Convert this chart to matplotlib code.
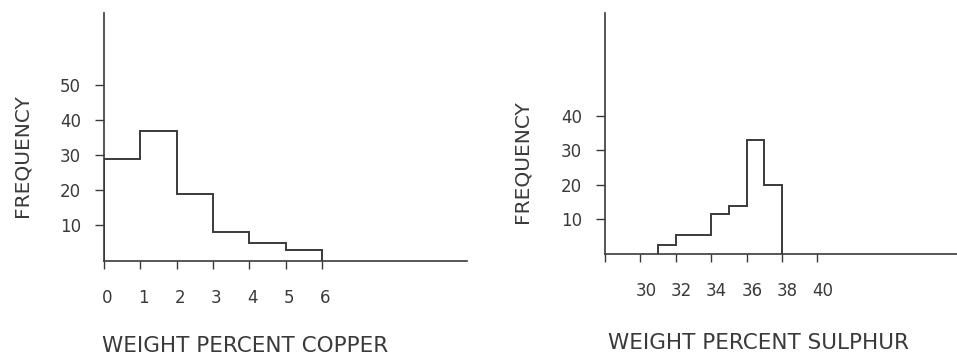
import matplotlib
matplotlib.use('Agg')
import matplotlib.pyplot as plt
from matplotlib.transforms import ScaledTranslation

# copper histogram (1 wt% bins)
cu_edges = [0, 1, 2, 3, 4, 5, 6]
cu_freq = [29, 37, 19, 8, 5, 3]
cu_ticks = [0, 1, 2, 3, 4, 5, 6]
cu_yticks = [10, 20, 30, 40, 50]

# sulphur histogram (uneven bins)
s_edges = [31, 32, 34, 35, 36, 37, 38]
s_freq = [2.5, 5.5, 11.5, 14, 33, 20]
s_ticks = [28, 30, 32, 34, 36, 38, 40]
s_ticklabels = ['', '30', '32', '34', '36', '38', '40']
s_yticks = [10, 20, 30, 40]

ink = '#3a3a3a'
plt.rcParams['font.family'] = ['DejaVu Sans']

fig = plt.figure(figsize=(9.57, 3.56), dpi=100)
fig.patch.set_facecolor('white')


def style(ax, shift):
    for side in ('top', 'right'):
        ax.spines[side].set_visible(False)
    for side in ('left', 'bottom'):
        ax.spines[side].set_color(ink)
        ax.spines[side].set_linewidth(1.2)
    ax.tick_params(axis='x', direction='out', length=5.5, width=1.0,
                   color=ink, labelcolor=ink, labelsize=12, pad=15)
    ax.tick_params(axis='y', direction='out', length=6.5, width=1.0,
                   color=ink, labelcolor=ink, labelsize=12, pad=10)
    # hand-lettered numbers sit a little right of their ticks
    off = ScaledTranslation(shift / 72, 0, fig.dpi_scale_trans)
    for lab in ax.get_xticklabels():
        lab.set_transform(lab.get_transform() + off)


ax1 = fig.add_axes([104 / 957, 95.5 / 356, 363 / 957, 247.5 / 356])
ax1.stairs(cu_freq, cu_edges, baseline=0, color=ink, linewidth=1.4)
ax1.set_xlim(0, 10)
ax1.set_ylim(0, 70.7)
ax1.set_xticks(cu_ticks)
ax1.set_xticklabels([str(t) for t in cu_ticks])
ax1.set_yticks(cu_yticks)
style(ax1, 2.5)

ax2 = fig.add_axes([605 / 957, 102 / 356, 352 / 957, 241 / 356])
ax2.stairs(s_freq, s_edges, baseline=0, color=ink, linewidth=1.4)
ax2.set_xlim(28, 47.9)
ax2.set_ylim(0, 69.7)
ax2.set_xticks(s_ticks)
ax2.set_xticklabels(s_ticklabels)
ax2.set_yticks(s_yticks)
style(ax2, 4)

# axis titles
fig.text(22 / 957, 1 - 156 / 356, 'FREQUENCY', rotation=90, ha='center',
         va='center', fontsize=14.5, color=ink)
fig.text(522 / 957, 1 - 162 / 356, 'FREQUENCY', rotation=90, ha='center',
         va='center', fontsize=14.5, color=ink)
fig.text(245 / 957, 1 - 346 / 356, 'WEIGHT PERCENT COPPER', ha='center',
         va='center', fontsize=15.5, color=ink)
fig.text(758 / 957, 1 - 343 / 356, 'WEIGHT PERCENT SULPHUR', ha='center',
         va='center', fontsize=15.5, color=ink)

fig.savefig('out.png', dpi=100, facecolor=fig.get_facecolor())
